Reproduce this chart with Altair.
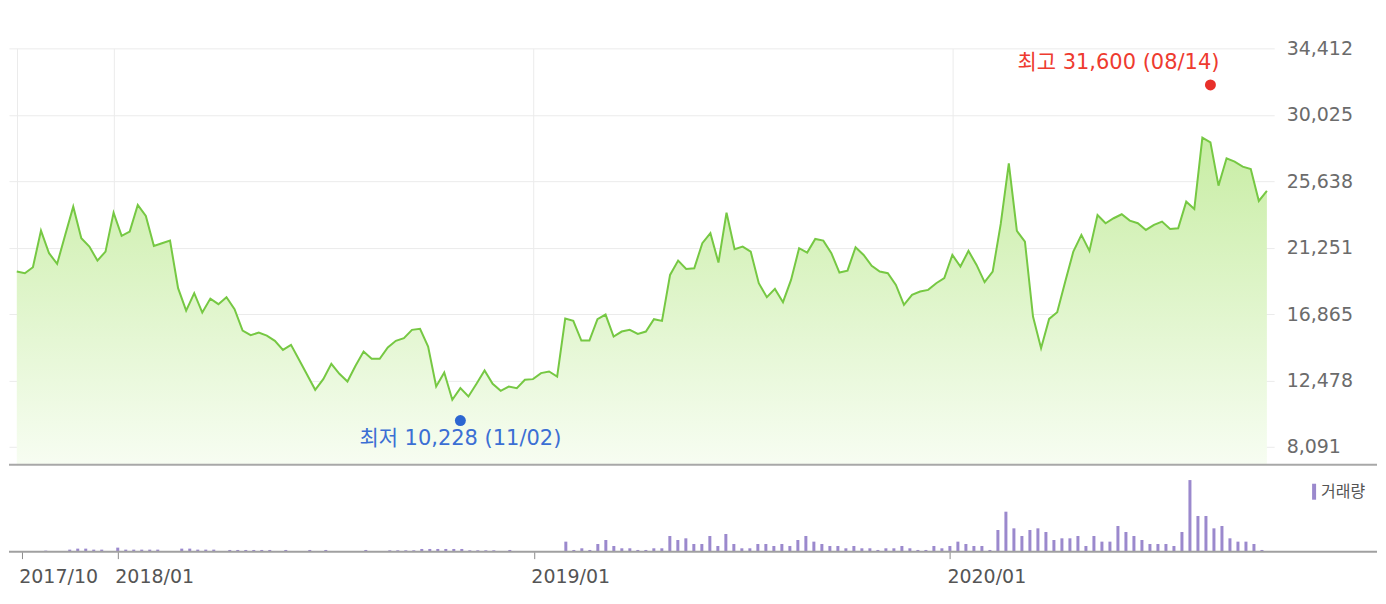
import altair as alt
import pandas as pd

FONT = "'DejaVu Sans', 'Noto Sans CJK KR', sans-serif"

# weekly closing prices (won), Oct 2017 - Sep 2020
close = [
    19668, 19562, 19958, 22374, 20882, 20176, 22090, 23958, 21872, 21318,
    20394, 20988, 23562, 22024, 22308, 24070, 23344, 21364, 21542, 21714,
    18572, 17094, 18242, 16962, 17886, 17516, 17978, 17186, 15774, 15470,
    15642, 15444, 15094, 14500, 14830, 13840, 12850, 11860, 12566, 13576,
    12916, 12408, 13444, 14388, 13906, 13906, 14652, 15094, 15272, 15820,
    15886, 14718, 12078, 13006, 11200, 11972, 11418, 12256, 13134, 12256,
    11794, 12078, 11972, 12520, 12566, 12962, 13068, 12738, 16570, 16414,
    15114, 15114, 16526, 16830, 15378, 15708, 15820, 15556, 15708, 16526,
    16414, 19450, 20394, 19846, 19892, 21542, 22202, 20262, 23562, 21146,
    21318, 20988, 18902, 17978, 18526, 17648, 19120, 21212, 20922, 21826,
    21714, 20882, 19602, 19734, 21278, 20770, 20044, 19668, 19562, 18790,
    17470, 18130, 18348, 18460, 18902, 19232, 20770, 20000, 21034, 20110,
    18968, 19668, 22816, 26822, 22354, 21648, 16698, 14612, 16546, 16988,
    19008, 20988, 22090, 21034, 23410, 22862, 23192, 23456, 23034, 22862,
    22420, 22750, 22968, 22486, 22532, 24288, 23806, 28512, 28208, 25344,
    27152, 26928, 26598, 26446, 24334, 24994,
]

# weekly volume (shares)
volume = [
    1000, 1000, 1000, 3000, 1000, 1000, 6000, 9000, 9000, 6000,
    6000, 1000, 12000, 6000, 6000, 6000, 6000, 6000, 1000, 1000,
    9000, 9000, 6000, 6000, 6000, 1000, 5000, 5000, 5000, 5000,
    5000, 5000, 1000, 5000, 1000, 1000, 5000, 1000, 5000, 1000,
    1000, 1000, 1000, 5000, 1000, 1000, 4000, 4000, 4000, 4000,
    8000, 8000, 8000, 8000, 8000, 8000, 4000, 4000, 4000, 4000,
    1000, 5000, 1000, 1000, 1000, 1000, 1000, 1000, 30000, 5000,
    10000, 5000, 23000, 35000, 17000, 10000, 10000, 5000, 5000, 10000,
    10000, 47000, 35000, 40000, 23000, 23000, 47000, 17000, 53000, 23000,
    10000, 10000, 23000, 23000, 17000, 23000, 17000, 35000, 47000, 30000,
    23000, 17000, 17000, 10000, 17000, 10000, 10000, 5000, 10000, 10000,
    17000, 10000, 5000, 5000, 17000, 10000, 17000, 30000, 23000, 17000,
    17000, 5000, 65000, 120000, 70000, 47000, 65000, 70000, 59000, 35000,
    40000, 40000, 47000, 17000, 47000, 30000, 30000, 77000, 59000, 47000,
    35000, 23000, 23000, 23000, 17000, 59000, 215000, 107000, 107000, 70000,
    77000, 40000, 30000, 30000, 23000, 5000,
]

tick_index = [0, 12, 64, 116]
tick_labels = ["2017/10", "2018/01", "2019/01", "2020/01"]
price_ticks = [8091, 12478, 16865, 21251, 25638, 30025, 34412]
price_floor = 6910

high_week = [148]
high_value = [31600]
high_label = ["최고 31,600 (08/14)"]
low_week = [55]
low_value = [10228]
low_label = ["최저 10,228 (11/02)"]

week = list(range(len(close)))
df = pd.DataFrame({"week": week, "close": close, "volume": volume})
hi = pd.DataFrame({"week": high_week, "close": high_value, "label": high_label})
lo = pd.DataFrame({"week": low_week, "close": low_value, "label": low_label})

W = 1267
PH = 417
VH = 86
xs = alt.Scale(domain=[-0.966, 155.9], nice=False, zero=False)
ys = alt.Scale(domain=[price_floor, 34412], nice=False, zero=False)

X_P = alt.X("week:Q", scale=xs, axis=alt.Axis(values=tick_index, grid=True, labels=False,
            ticks=False, domain=False, title=None, gridColor="#ebebeb", gridWidth=1))
Y_P = alt.Y("close:Q", scale=ys, axis=alt.Axis(orient="right", values=price_ticks, format=",d",
            ticks=False, domain=False, title=None, grid=True, gridColor="#ebebeb",
            labelPadding=12, labelFontSize=19, labelColor="#6b6b6b", labelFont=FONT,
            labelOverlap=False))

grad = alt.Gradient(gradient="linear",
                    stops=[alt.GradientStop(color="#c8eda4", offset=0),
                           alt.GradientStop(color="#f7fdf2", offset=1)],
                    x1=1, x2=1, y1=0, y2=1)

area = alt.Chart(df).mark_area(color=grad, clip=True).encode(
    x=X_P, y=Y_P, y2=alt.datum(price_floor))
line = alt.Chart(df).mark_line(color="#76c843", strokeWidth=2).encode(x=X_P, y=Y_P)

hi_dot = alt.Chart(hi).mark_circle(size=120, color="#e8302a", opacity=1, yOffset=-6).encode(x=X_P, y=Y_P)
hi_txt = alt.Chart(hi).mark_text(align="right", baseline="middle", dx=9, dy=-28, fontSize=21,
                                 color="#ee3b2f", font=FONT).encode(x=X_P, y=Y_P, text="label:N")
lo_dot = alt.Chart(lo).mark_circle(size=120, color="#2c66d1", opacity=1, yOffset=6).encode(x=X_P, y=Y_P)
lo_txt = alt.Chart(lo).mark_text(align="center", baseline="middle", dy=25, fontSize=21,
                                 color="#3b6fd4", font=FONT).encode(x=X_P, y=Y_P, text="label:N")

one = pd.DataFrame({"k": [0]})
sep = alt.Chart(one).mark_rule(color="#a8a8a8", strokeWidth=2).encode(
    x=alt.value(0), x2=alt.value(1370), y=alt.value(PH))

price = alt.layer(area, line, hi_dot, hi_txt, lo_dot, lo_txt, sep).properties(width=W, height=PH)

label_expr = " : ".join(f"datum.value == {i} ? '{l}'" for i, l in zip(tick_index, tick_labels)) + " : ''"

X_V = alt.X("week:Q", scale=xs, axis=alt.Axis(values=tick_index, labelExpr=label_expr, grid=False,
            domain=False, ticks=True, tickSize=7, tickColor="#8c8c8c", labelAlign="left",
            labelBaseline="top", labelFontSize=19, labelColor="#555555", labelPadding=9,
            labelOffset=-3, labelFont=FONT, labelFlush=False, labelOverlap=False, title=None))

bars = alt.Chart(df).mark_bar(size=3, color="#9b89cd").encode(
    x=X_V, y=alt.Y("volume:Q", scale=alt.Scale(domain=[0, 258000], nice=False), axis=None))
base_rule = alt.Chart(one).mark_rule(color="#a0a0a0", strokeWidth=2).encode(
    x=alt.value(0), x2=alt.value(1370), y=alt.value(VH))
leg_bar = alt.Chart(one).mark_rule(color="#9b89cd", strokeWidth=4).encode(
    x=alt.value(1307), y=alt.value(18), y2=alt.value(34))
leg_txt = alt.Chart(pd.DataFrame({"t": ["거래량"]})).mark_text(
    align="left", baseline="middle", fontSize=16, color="#555555", font=FONT).encode(
    x=alt.value(1314), y=alt.value(26), text="t:N")

vol = alt.layer(bars, base_rule, leg_bar, leg_txt).properties(width=W, height=VH)

chart = alt.vconcat(price, vol, spacing=0).properties(
    padding={"left": 0, "top": 31, "right": 0, "bottom": 0},
    background="white",
).configure_view(stroke=None).configure_text(font=FONT)

chart.save("out.html", embed_options={"renderer": "svg", "actions": False})
